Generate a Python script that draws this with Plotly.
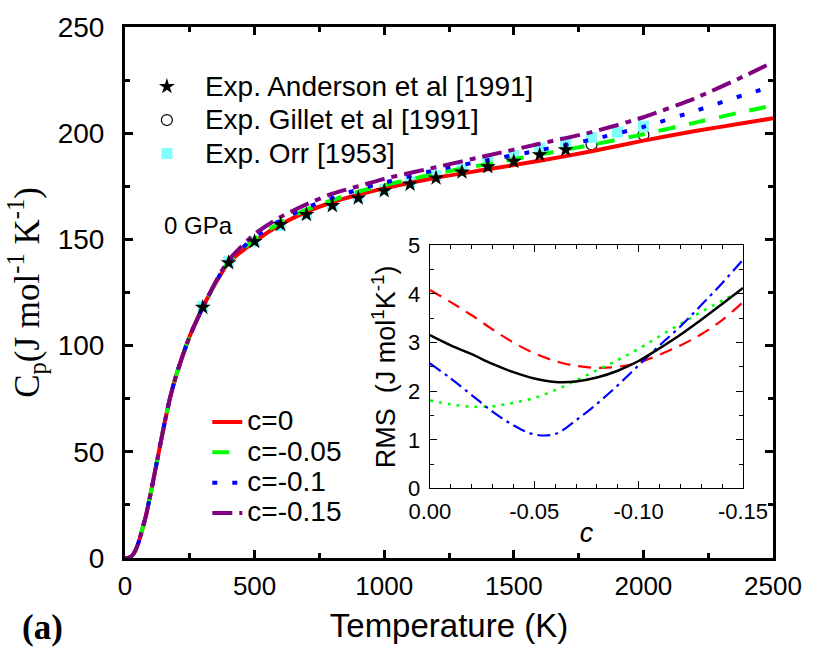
import plotly.graph_objects as go

# ---------------- data ----------------
T_model = [0, 10, 20, 30, 40, 50, 60, 70, 80, 100, 125, 150, 175, 200, 250, 300, 350, 400,
           500, 600, 700, 800, 900, 1000, 1200, 1400, 1600, 1800, 2000, 2200, 2400, 2500]
cp_c0 = [0, 0.05, 0.4, 1.5, 3.5, 6.5, 10.5, 15, 19.5, 31, 46.5, 62, 76, 87, 104.5, 118, 129.5, 139,
         149, 157, 163, 167.5, 171, 174, 179, 183, 187, 191.5, 196.5, 201, 205, 207]
cp_c005 = [0, 0.05, 0.4, 1.5, 3.5, 6.5, 10.5, 15, 19.5, 31, 46.5, 62, 76, 87, 104.5, 118, 129.7, 139.4,
           150, 158, 164, 168.5, 172.5, 175.5, 181, 185.5, 190, 194.5, 199.5, 205, 210.5, 213]
cp_c01 = [0, 0.05, 0.4, 1.5, 3.5, 6.5, 10.5, 15, 19.5, 31, 46.5, 62, 76, 87, 104.5, 118, 129.9, 139.8,
          151, 159, 165, 169.5, 173.5, 176.7, 182.7, 187.3, 192, 197, 203, 210.5, 218.5, 222]
cp_c015 = [0, 0.05, 0.4, 1.5, 3.5, 6.5, 10.5, 15, 19.5, 31, 46.5, 62, 76, 87, 104.5, 118, 130.1, 140.3,
           152.5, 160.5, 166.5, 171.5, 175, 178.5, 184, 189.5, 195, 200.5, 207.5, 216.5, 227.5, 233.5]

T_anderson = [300, 400, 500, 600, 700, 800, 900, 1000, 1100, 1200, 1300, 1400, 1500, 1600, 1700]
cp_anderson = [118, 139, 149, 157, 161.7, 165.9, 169.5, 172.9, 176, 178.9, 181.7, 184.2, 186.7, 189.8, 192.2]

T_gillet = [1800, 2000]
cp_gillet = [194.7, 199.3]

T_orr = [300, 400, 500, 600, 700, 800, 900, 1000, 1100, 1200, 1300, 1400, 1500, 1600, 1700, 1800, 1900, 2000]
cp_orr = [118.5, 139.5, 149, 156.5, 162, 166.5, 170, 173.5, 177, 180, 183, 186.3, 189.5, 193, 195.8, 198, 200.5, 203.3]

c_vals = [0, -0.01, -0.02, -0.03, -0.04, -0.05, -0.06, -0.07, -0.08, -0.09, -0.10, -0.11, -0.12, -0.13, -0.14, -0.15]
rms_black = [3.15, 2.94, 2.76, 2.56, 2.39, 2.26, 2.19, 2.20, 2.28, 2.42, 2.62, 2.88, 3.16, 3.47, 3.79, 4.12]
rms_red = [4.08, 3.83, 3.56, 3.27, 3.00, 2.78, 2.62, 2.52, 2.48, 2.50, 2.59, 2.75, 2.94, 3.17, 3.46, 3.83]
rms_green = [1.81, 1.73, 1.68, 1.69, 1.76, 1.86, 2.02, 2.22, 2.43, 2.64, 2.87, 3.13, 3.38, 3.63, 3.86, 4.08]
rms_blue = [2.57, 2.26, 1.92, 1.58, 1.30, 1.11, 1.12, 1.40, 1.74, 2.12, 2.53, 2.94, 3.33, 3.77, 4.22, 4.70]

x_ticks = [0, 500, 1000, 1500, 2000, 2500]
y_ticks = [0, 50, 100, 150, 200, 250]
inset_xticks = [0, -0.05, -0.10, -0.15]
inset_xticktext = ["0.00", "-0.05", "-0.10", "-0.15"]
inset_yticks = [0, 1, 2, 3, 4, 5]

SANS = "Liberation Sans, Arial, sans-serif"
SERIF = "Liberation Serif, Times New Roman, serif"


def big(label, px=28):
    return '<span style="font-size:%dpx">%s</span>' % (px, label)


fig = go.Figure()

# experimental points (behind lines)
fig.add_trace(go.Scatter(x=T_gillet, y=cp_gillet, mode="markers", name=big("Exp. Gillet et al [1991]"),
                         marker=dict(symbol="circle-open", size=11, color="black", line=dict(width=1.2)),
                         legend="legend", legendrank=2))
fig.add_trace(go.Scatter(x=T_orr, y=cp_orr, mode="markers", name=big("Exp. Orr [1953]"),
                         marker=dict(symbol="square", size=11, color="#80FFFF"),
                         legend="legend", legendrank=3))

# model curves
fig.add_trace(go.Scatter(x=T_model, y=cp_c0, mode="lines", name=big("c=0"),
                         line=dict(color="#FF0000", width=4, shape="spline", smoothing=0.6),
                         legend="legend2", legendrank=1))
fig.add_trace(go.Scatter(x=T_model, y=cp_c005, mode="lines", name=big("c=-0.05"),
                         line=dict(color="#00FF00", width=4, dash="17px,14px", shape="spline", smoothing=0.6),
                         legend="legend2", legendrank=2))
fig.add_trace(go.Scatter(x=T_model, y=cp_c01, mode="lines", name=big("c=-0.1"),
                         line=dict(color="#0000FF", width=4, dash="5px,15px", shape="spline", smoothing=0.6),
                         legend="legend2", legendrank=3))
fig.add_trace(go.Scatter(x=T_model, y=cp_c015, mode="lines", name=big("c=-0.15"),
                         line=dict(color="#800080", width=4, dash="20px,7px,6px,7px", shape="spline", smoothing=0.6),
                         legend="legend2", legendrank=4))

fig.add_trace(go.Scatter(x=T_anderson, y=cp_anderson, mode="markers", name=big("Exp. Anderson et al [1991]"),
                         marker=dict(symbol="star", size=12, color="black"),
                         legend="legend", legendrank=1))

# inset curves
inset_style = dict(xaxis="x2", yaxis="y2", mode="lines", showlegend=False)
fig.add_trace(go.Scatter(x=c_vals, y=rms_red, line=dict(color="#FF0000", width=2.2, dash="13px,8px", shape="spline"), **inset_style))
fig.add_trace(go.Scatter(x=c_vals, y=rms_green, line=dict(color="#00FF00", width=2.5, dash="3px,6px", shape="spline"), **inset_style))
fig.add_trace(go.Scatter(x=c_vals, y=rms_blue, line=dict(color="#0000FF", width=2.2, dash="13px,5px,3px,5px", shape="spline"), **inset_style))
fig.add_trace(go.Scatter(x=c_vals, y=rms_black, line=dict(color="black", width=2.5, shape="spline"), **inset_style))

main_axis = dict(showline=True, linewidth=3, linecolor="black", mirror="allticks",
                 ticks="inside", ticklen=8, tickwidth=3, tickcolor="black",
                 showgrid=False, zeroline=False)

fig.update_layout(
    width=814, height=652,
    margin=dict(l=125, r=35, t=26, b=94),
    paper_bgcolor="white", plot_bgcolor="white",
    xaxis=dict(range=[0, 2500], tickvals=x_ticks, domain=[0, 1],
               minor=dict(dtick=250, ticks="inside", ticklen=5, tickwidth=3, tickcolor="black"),
               ticklabelstandoff=3,
               tickfont=dict(family=SANS, size=26, color="black"),
               title=dict(text="Temperature (K)", font=dict(family=SANS, size=33, color="black"), standoff=14),
               **main_axis),
    yaxis=dict(range=[0, 250], tickvals=y_ticks, domain=[0, 1],
               minor=dict(dtick=25, ticks="inside", ticklen=5, tickwidth=3, tickcolor="black"),
               ticklabelstandoff=12,
               tickfont=dict(family=SANS, size=28, color="black"),
               title=dict(text="C<sub>p</sub>(J mol<sup>-1</sup> K<sup>-1</sup>)",
                          font=dict(family=SERIF, size=35, color="black"), standoff=8),
               **main_axis),
    xaxis2=dict(domain=[0.4705, 0.9537], anchor="y2", range=[0, -0.15], autorange=False,
                tickvals=inset_xticks, ticktext=inset_xticktext,
                showline=True, linewidth=1.3, linecolor="black", mirror="allticks",
                ticks="inside", ticklen=7, tickwidth=1.3, tickcolor="black",
                minor=dict(dtick=0.01, tick0=0, ticks="inside", ticklen=4, tickwidth=1.2, tickcolor="black"),
                showgrid=False, zeroline=False, ticklabelstandoff=3,
                tickfont=dict(family=SANS, size=22, color="black"),
                title=dict(text="<i>c</i>", font=dict(family=SANS, size=27, color="black"), standoff=0)),
    yaxis2=dict(domain=[0.131, 0.589], anchor="x2", range=[0, 5], tickvals=inset_yticks,
                showline=True, linewidth=1.3, linecolor="black", mirror="allticks",
                ticks="inside", ticklen=7, tickwidth=1.3, tickcolor="black",
                minor=dict(dtick=0.5, ticks="inside", ticklen=4, tickwidth=1.2, tickcolor="black"),
                showgrid=False, zeroline=False, ticklabelstandoff=4,
                tickfont=dict(family=SANS, size=22, color="black"),
                title=dict(text="RMS  (J mol<sup>1</sup>K<sup>-1</sup>)",
                           font=dict(family=SANS, size=27, color="black"), standoff=4)),
    legend=dict(x=0.006, y=0.929, xanchor="left", yanchor="top", itemwidth=66,
                bgcolor="rgba(0,0,0,0)", borderwidth=0,
                font=dict(family=SANS, size=23.5, color="black"), tracegroupgap=0),
    legend2=dict(x=0.127, y=0.294, xanchor="left", yanchor="top",
                 bgcolor="rgba(0,0,0,0)", borderwidth=0,
                 font=dict(family=SANS, size=21, color="black"), tracegroupgap=0),
    annotations=[
        dict(text="0 GPa", x=0.113, y=0.626, xref="paper", yref="paper", showarrow=False,
             xanchor="center", yanchor="middle",
             font=dict(family=SANS, size=24, color="black")),
        dict(text="<b>(a)</b>", x=-0.128, y=-0.13, xref="paper", yref="paper", showarrow=False,
             xanchor="center", yanchor="middle",
             font=dict(family=SERIF, size=35, color="black")),
    ],
)

fig.write_html("out.html")
